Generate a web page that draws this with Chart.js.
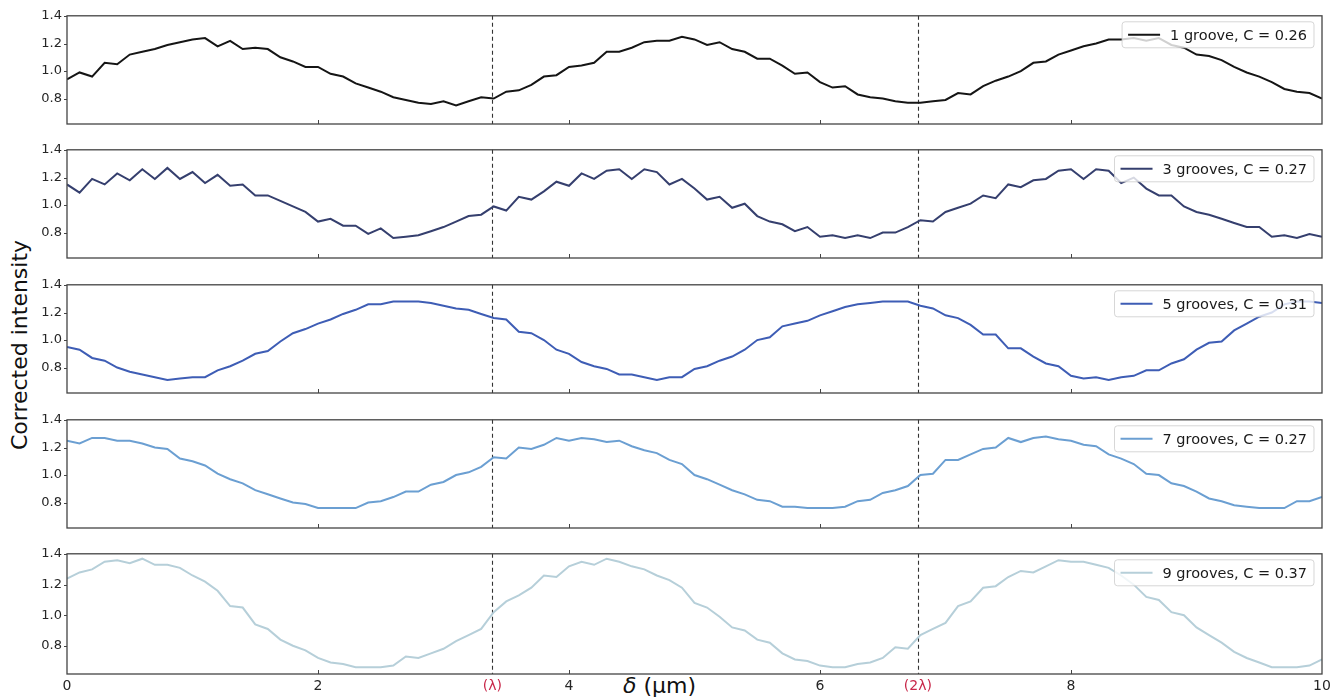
<!DOCTYPE html>
<html lang="en">
<head>
<meta charset="UTF-8" />
<title>Corrected intensity vs delta</title>
<script src="https://cdn.jsdelivr.net/npm/chart.js"></script>
<style>
  body { margin: 0; background: #fff; width: 1343px; height: 698px; position: relative; overflow: hidden; font-family: "DejaVu Sans", sans-serif; }
  canvas.panel { position: absolute; left: 0; }
  #ylabel { position: absolute; left: 19px; top: 345px; transform: translate(-50%, -50%) rotate(-90deg); font-size: 22px; white-space: nowrap; color: #111; }
  #xlabel { position: absolute; left: 623px; top: 673px; font-size: 22px; color: #111; white-space: nowrap; }
</style>
</head>
<body>
  <div id="ylabel">Corrected intensity</div>
  <div id="xlabel"><i>δ</i> (µm)</div>

<script>
  const lambda = 3.39;
  const yTickValues = [0.8, 1.0, 1.2, 1.4];
  const xTickValues = [0, 2, lambda, 4, 6, 2 * lambda, 8, 10];
  const xs = Array.from({ length: 101 }, (_, i) => i / 10);

  const labels = [
    "1 groove, C = 0.26",
    "3 grooves, C = 0.27",
    "5 grooves, C = 0.31",
    "7 grooves, C = 0.27",
    "9 grooves, C = 0.37"
  ];
  const colors = ["#151515", "#353f6e", "#3e5db5", "#6b9fd2", "#b6cfd9"];

  const g1 = [0.94, 0.99, 0.96, 1.06, 1.05, 1.12, 1.14, 1.16, 1.19, 1.21,
              1.23, 1.24, 1.18, 1.22, 1.16, 1.17, 1.16, 1.10, 1.07, 1.03,
              1.03, 0.98, 0.96, 0.91, 0.88, 0.85, 0.81, 0.79, 0.77, 0.76,
              0.78, 0.75, 0.78, 0.81, 0.80, 0.85, 0.86, 0.90, 0.96, 0.97,
              1.03, 1.04, 1.06, 1.14, 1.14, 1.17, 1.21, 1.22, 1.22, 1.25,
              1.23, 1.19, 1.21, 1.16, 1.14, 1.09, 1.09, 1.04, 0.98, 0.99,
              0.92, 0.88, 0.89, 0.83, 0.81, 0.80, 0.78, 0.77, 0.77, 0.78,
              0.79, 0.84, 0.83, 0.89, 0.93, 0.96, 1.00, 1.06, 1.07, 1.12,
              1.15, 1.18, 1.20, 1.23, 1.23, 1.24, 1.22, 1.24, 1.19, 1.17,
              1.12, 1.11, 1.08, 1.03, 0.99, 0.96, 0.92, 0.87, 0.85, 0.84,
              0.80];
  const g3 = [1.15, 1.09, 1.19, 1.15, 1.23, 1.18, 1.26, 1.19, 1.27, 1.19,
              1.24, 1.16, 1.22, 1.14, 1.15, 1.07, 1.07, 1.03, 0.99, 0.95,
              0.88, 0.90, 0.85, 0.85, 0.79, 0.83, 0.76, 0.77, 0.78, 0.81,
              0.84, 0.88, 0.92, 0.93, 0.99, 0.96, 1.06, 1.04, 1.10, 1.17,
              1.14, 1.23, 1.19, 1.25, 1.26, 1.19, 1.26, 1.24, 1.15, 1.19,
              1.12, 1.04, 1.06, 0.98, 1.01, 0.92, 0.88, 0.86, 0.81, 0.84,
              0.77, 0.78, 0.76, 0.78, 0.76, 0.80, 0.80, 0.84, 0.89, 0.88,
              0.95, 0.98, 1.01, 1.07, 1.05, 1.15, 1.13, 1.18, 1.19, 1.25,
              1.26, 1.19, 1.26, 1.25, 1.16, 1.20, 1.12, 1.07, 1.07, 0.99,
              0.95, 0.93, 0.90, 0.87, 0.84, 0.84, 0.77, 0.78, 0.76, 0.79,
              0.77];
  const g5 = [0.95, 0.93, 0.87, 0.85, 0.80, 0.77, 0.75, 0.73, 0.71, 0.72,
              0.73, 0.73, 0.78, 0.81, 0.85, 0.90, 0.92, 0.99, 1.05, 1.08,
              1.12, 1.15, 1.19, 1.22, 1.26, 1.26, 1.28, 1.28, 1.28, 1.27,
              1.25, 1.23, 1.22, 1.19, 1.16, 1.15, 1.06, 1.05, 1.00, 0.93,
              0.90, 0.84, 0.81, 0.79, 0.75, 0.75, 0.73, 0.71, 0.73, 0.73,
              0.79, 0.81, 0.85, 0.88, 0.93, 1.00, 1.02, 1.10, 1.12, 1.14,
              1.18, 1.21, 1.24, 1.26, 1.27, 1.28, 1.28, 1.28, 1.25, 1.23,
              1.18, 1.16, 1.11, 1.04, 1.04, 0.94, 0.94, 0.88, 0.83, 0.81,
              0.74, 0.72, 0.73, 0.71, 0.73, 0.74, 0.78, 0.78, 0.83, 0.86,
              0.93, 0.98, 0.99, 1.07, 1.12, 1.17, 1.20, 1.26, 1.28, 1.28,
              1.27];
  const g7 = [1.25, 1.23, 1.27, 1.27, 1.25, 1.25, 1.23, 1.20, 1.19, 1.12,
              1.10, 1.07, 1.01, 0.97, 0.94, 0.89, 0.86, 0.83, 0.80, 0.79,
              0.76, 0.76, 0.76, 0.76, 0.80, 0.81, 0.84, 0.88, 0.88, 0.93,
              0.95, 1.00, 1.02, 1.06, 1.13, 1.12, 1.20, 1.19, 1.22, 1.27,
              1.25, 1.27, 1.26, 1.24, 1.25, 1.21, 1.18, 1.16, 1.11, 1.08,
              1.00, 0.97, 0.93, 0.89, 0.86, 0.82, 0.81, 0.77, 0.77, 0.76,
              0.76, 0.76, 0.77, 0.81, 0.82, 0.87, 0.89, 0.92, 1.00, 1.01,
              1.11, 1.11, 1.15, 1.19, 1.20, 1.27, 1.24, 1.27, 1.28, 1.26,
              1.25, 1.22, 1.21, 1.15, 1.12, 1.08, 1.01, 1.00, 0.94, 0.92,
              0.88, 0.83, 0.81, 0.78, 0.77, 0.76, 0.76, 0.76, 0.81, 0.81,
              0.84];
  const g9 = [1.24, 1.28, 1.30, 1.35, 1.36, 1.34, 1.37, 1.33, 1.33, 1.31,
              1.26, 1.22, 1.16, 1.06, 1.05, 0.94, 0.91, 0.84, 0.80, 0.77,
              0.72, 0.69, 0.68, 0.66, 0.66, 0.66, 0.67, 0.73, 0.72, 0.75,
              0.78, 0.83, 0.87, 0.91, 1.02, 1.09, 1.13, 1.18, 1.26, 1.25,
              1.32, 1.35, 1.33, 1.37, 1.35, 1.32, 1.30, 1.26, 1.23, 1.18,
              1.08, 1.05, 0.99, 0.92, 0.90, 0.84, 0.82, 0.75, 0.71, 0.70,
              0.67, 0.66, 0.66, 0.68, 0.69, 0.72, 0.79, 0.78, 0.87, 0.91,
              0.95, 1.06, 1.09, 1.18, 1.19, 1.25, 1.29, 1.28, 1.32, 1.36,
              1.35, 1.35, 1.33, 1.31, 1.26, 1.20, 1.12, 1.10, 1.02, 1.00,
              0.92, 0.87, 0.82, 0.76, 0.72, 0.69, 0.66, 0.66, 0.66, 0.67,
              0.71];
  const series = [g1, g3, g5, g7, g9];

  const panelTops = [15, 149, 284, 419, 553];
  const panelH = 121;
  const padTop = 12;

  Chart.defaults.font.family = '"DejaVu Sans", sans-serif';

  // frame, ticks, dashed lambda lines and the legend box
  const decorPlugin = {
    id: 'decor',
    beforeDatasetsDraw(chart) {
      const ctx = chart.ctx, ca = chart.chartArea, xs = chart.scales.x;
      ctx.save();
      ctx.strokeStyle = '#333';
      ctx.lineWidth = 1.1;
      ctx.setLineDash([4, 3]);
      [lambda, 2 * lambda].forEach(v => {
        const px = Math.round(xs.getPixelForValue(v)) + 0.5;
        ctx.beginPath();
        ctx.moveTo(px, ca.top);
        ctx.lineTo(px, ca.bottom);
        ctx.stroke();
      });
      ctx.restore();
    },
    afterDatasetsDraw(chart) {
      const ctx = chart.ctx, ca = chart.chartArea;
      const xs = chart.scales.x, ys = chart.scales.y;
      ctx.save();
      ctx.strokeStyle = '#444';
      ctx.lineWidth = 1;
      [2, 4, 6, 8].forEach(v => {
        const px = Math.round(xs.getPixelForValue(v)) + 0.5;
        ctx.beginPath();
        ctx.moveTo(px, ca.bottom);
        ctx.lineTo(px, ca.bottom - 4);
        ctx.stroke();
      });
      yTickValues.forEach(v => {
        const py = Math.round(ys.getPixelForValue(v)) + 0.5;
        ctx.beginPath();
        ctx.moveTo(ca.left - 3, py);
        ctx.lineTo(ca.left, py);
        ctx.stroke();
      });
      ctx.lineWidth = 1.3;
      ctx.strokeRect(ca.left, ca.top, ca.right - ca.left, ca.bottom - ca.top);

      // legend
      const ds = chart.data.datasets[0];
      ctx.font = '14.5px "DejaVu Sans"';
      const tw = ctx.measureText(ds.label).width;
      const bw = 6 + 32 + 10 + tw + 7, bh = 26;
      const bx = ca.right - 8 - bw, by = ca.top + 6;
      ctx.fillStyle = 'rgba(255,255,255,0.8)';
      ctx.strokeStyle = 'rgba(204,204,204,0.8)';
      ctx.lineWidth = 1;
      ctx.beginPath();
      ctx.roundRect(bx, by, bw, bh, 3);
      ctx.fill();
      ctx.stroke();
      ctx.strokeStyle = ds.borderColor;
      ctx.lineWidth = 2;
      ctx.beginPath();
      ctx.moveTo(bx + 6, by + bh / 2);
      ctx.lineTo(bx + 38, by + bh / 2);
      ctx.stroke();
      ctx.fillStyle = '#1a1a1a';
      ctx.textBaseline = 'middle';
      ctx.fillText(ds.label, bx + 48, by + bh / 2 + 1);
      ctx.restore();
    }
  };

  function isLambdaTick(v) {
    return Math.abs(v - lambda) < 1e-6 || Math.abs(v - 2 * lambda) < 1e-6;
  }

  function xLabel(v) {
    if (Math.abs(v - lambda) < 1e-6) return '(λ)';
    if (Math.abs(v - 2 * lambda) < 1e-6) return '(2λ)';
    return String(v);
  }

  series.forEach((vals, i) => {
    const isLast = i === series.length - 1;
    const canvas = document.createElement('canvas');
    canvas.className = 'panel';
    const top = panelTops[i] - padTop;
    const height = isLast ? 698 - top : panelH + 2 * padTop;
    canvas.width = 1343;
    canvas.height = height;
    canvas.style.top = top + 'px';
    document.body.appendChild(canvas);

    new Chart(canvas, {
      type: 'line',
      data: {
        datasets: [{
          label: labels[i],
          data: xs.map((x, k) => ({ x: x, y: vals[k] })),
          borderColor: colors[i],
          borderWidth: 2,
          pointRadius: 0,
          tension: 0,
          fill: false
        }]
      },
      options: {
        responsive: false,
        animation: false,
        layout: { padding: { top: padTop, right: 21, bottom: isLast ? 0 : padTop, left: 0 } },
        plugins: { legend: { display: false }, tooltip: { enabled: false } },
        scales: {
          x: {
            type: 'linear',
            min: 0,
            max: 10,
            display: isLast,
            grid: { display: false, drawTicks: false },
            border: { display: false },
            afterBuildTicks: s => { s.ticks = xTickValues.map(v => ({ value: v })); },
            afterFit: s => { s.height = height - padTop - panelH; },
            ticks: {
              autoSkip: false,
              maxRotation: 0,
              padding: 4,
              font: { size: 14 },
              color: c => (c.tick && isLambdaTick(c.tick.value)) ? '#c8284a' : '#262626',
              callback: v => xLabel(v)
            }
          },
          y: {
            min: 0.615,
            max: 1.402,
            grid: { display: false, drawTicks: false },
            border: { display: false },
            afterBuildTicks: s => { s.ticks = yTickValues.map(v => ({ value: v })); },
            afterFit: s => { s.width = 67; },
            ticks: {
              padding: 5,
              font: { size: 13 },
              color: '#262626',
              callback: v => Number(v).toFixed(1)
            }
          }
        }
      },
      plugins: [decorPlugin]
    });
  });
</script>
</body>
</html>
